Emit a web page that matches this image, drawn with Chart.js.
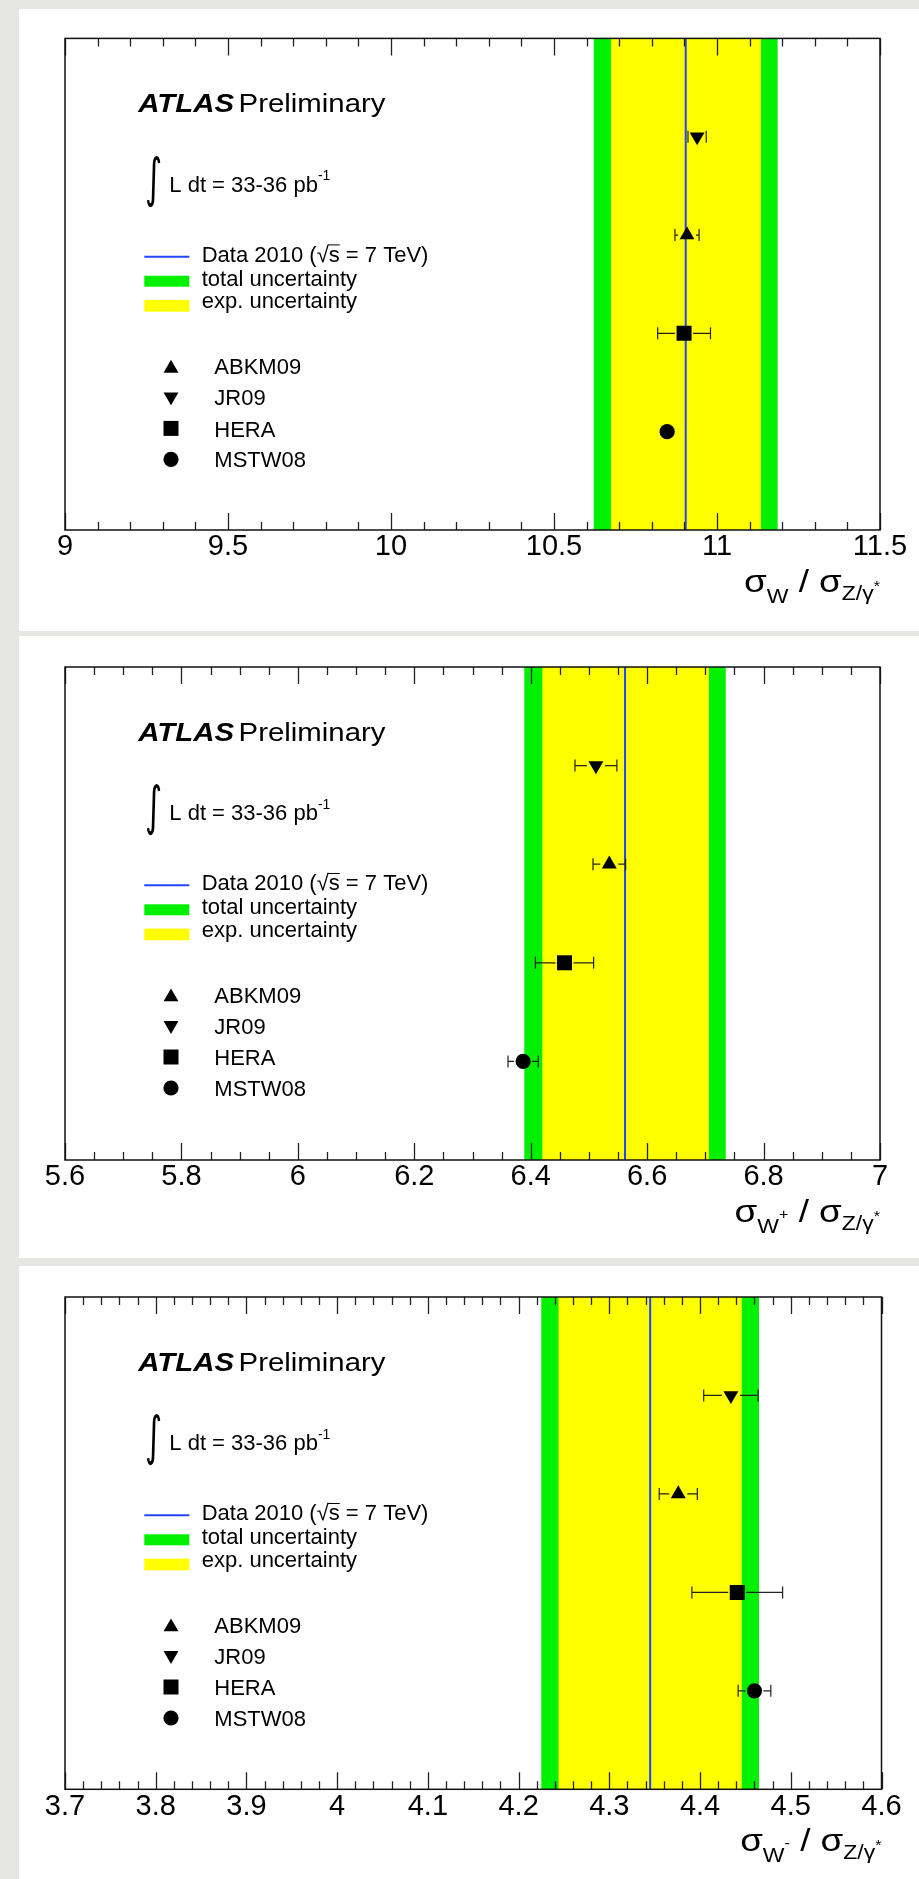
<!DOCTYPE html>
<html><head><meta charset="utf-8">
<script src="https://cdn.jsdelivr.net/npm/chart.js@4.4.1/dist/chart.umd.min.js"></script>
<style>
html,body{margin:0;padding:0;background:#e6e6e4;}
body{width:919px;height:1879px;position:relative;overflow:hidden;}
.panel{position:absolute;left:19px;width:900px;background:#fff;}
canvas{display:block;}
</style></head><body>
<div class="panel" style="top:9px;height:622px"><canvas id="c1" width="900" height="622"></canvas></div>
<div class="panel" style="top:636px;height:622px"><canvas id="c2" width="900" height="622"></canvas></div>
<div class="panel" style="top:1266px;height:613px"><canvas id="c3" width="900" height="613"></canvas></div>
<script>
// ---------- data ----------
const pdfLabels = ['ABKM09', 'JR09', 'HERA', 'MSTW08'];
const pdfRows = [3, 4, 2, 1];

// sigma_W / sigma_Z
const wTicks = ['9', '9.5', '10', '10.5', '11', '11.5'];
const wCentral = 10.904;
const wExpBand = [10.675, 11.135];
const wTotBand = [10.622, 11.186];
const wPred = [10.908, 10.939, 10.899, 10.847];
const wPredErr = [0.037, 0.028, 0.081, 0];

// sigma_W+ / sigma_Z
const wpTicks = ['5.6', '5.8', '6', '6.2', '6.4', '6.6', '6.8', '7'];
const wpCentral = 6.562;
const wpExpBand = [6.420, 6.706];
const wpTotBand = [6.389, 6.735];
const wpPred = [6.535, 6.512, 6.458, 6.387];
const wpPredErr = [0.028, 0.036, 0.050, 0.026];

// sigma_W- / sigma_Z
const wmTicks = ['3.7', '3.8', '3.9', '4', '4.1', '4.2', '4.3', '4.4', '4.5', '4.6'];
const wmCentral = 4.345;
const wmExpBand = [4.244, 4.446];
const wmTotBand = [4.225, 4.465];
const wmPred = [4.376, 4.434, 4.441, 4.460];
const wmPredErr = [0.021, 0.030, 0.050, 0.018];

// ---------- style ----------
const F = '"Liberation Sans", Arial, Helvetica, sans-serif';
const GREEN = '#00f000';
const YELLOW = '#ffff00';
const BLUE = '#2244ff';
const markerStyles = [
  {pointStyle: 'triangle', rotation: 0, radius: 8.6},
  {pointStyle: 'triangle', rotation: 180, radius: 8.6},
  {pointStyle: 'rect', rotation: 0, radius: 10.6},
  {pointStyle: 'circle', rotation: 0, radius: 7.6}
];

function drawMarker(ctx, st, x, y) {
  const opts = {pointStyle: st.pointStyle, rotation: st.rotation, radius: st.radius, borderWidth: 0};
  ctx.save();
  ctx.fillStyle = '#000'; ctx.strokeStyle = '#000';
  Chart.helpers.drawPoint(ctx, opts, x, y);
  ctx.restore();
}

function drawTitle(ctx, rightX, baseY, sup) {
  const big = '32px ' + F, sub = '20px ' + F, tiny = '14px ' + F;
  const parts = [
    {t: 'σ', f: big, dy: 0},
    {t: 'W', f: sub, dy: 11},
  ];
  if (sup) parts.push({t: sup, f: tiny, dy: -3});
  parts.push({t: ' / ', f: big, dy: 0});
  parts.push({t: 'σ', f: big, dy: 0});
  parts.push({t: 'Z/γ', f: sub, dy: 8});
  parts.push({t: '*', f: tiny, dy: -1});
  const S = 1.15;
  let total = 0;
  parts.forEach(p => { ctx.font = p.f; p.w = ctx.measureText(p.t).width; total += p.w; });
  ctx.save();
  ctx.translate(rightX - total * S, baseY);
  ctx.scale(S, 1);
  ctx.fillStyle = '#000';
  ctx.textBaseline = 'alphabetic';
  let cx = 0;
  parts.forEach(p => { ctx.font = p.f; ctx.fillText(p.t, cx, p.dy); cx += p.w; });
  ctx.restore();
}

const decorPlugin = {
  id: 'decor',
  beforeDatasetsDraw(chart) {
    const cfg = chart.options.plugins.decor;
    const {ctx, chartArea: a} = chart;
    const x = chart.scales.x;
    ctx.save();
    const band = (r, col) => {
      const x0 = x.getPixelForValue(r[0]), x1 = x.getPixelForValue(r[1]);
      ctx.fillStyle = col;
      ctx.fillRect(x0, a.top, x1 - x0, a.bottom - a.top);
    };
    band(cfg.tot, GREEN);
    band(cfg.exp, YELLOW);
    ctx.restore();
  },
  afterDatasetsDraw(chart) {
    const cfg = chart.options.plugins.decor;
    const {ctx} = chart;
    const x = chart.scales.x, y = chart.scales.y;
    ctx.save();
    ctx.strokeStyle = '#222';
    ctx.lineWidth = 1.2;
    cfg.pred.forEach((v, i) => {
      const e = cfg.err[i];
      if (!e) return;
      const py = y.getPixelForValue(pdfRows[i]);
      const xl = x.getPixelForValue(v - e), xr = x.getPixelForValue(v + e), xc = x.getPixelForValue(v);
      const gap = 9;
      ctx.beginPath();
      if (xc - xl > gap) { ctx.moveTo(xl, py); ctx.lineTo(xc - gap, py); }
      if (xr - xc > gap) { ctx.moveTo(xc + gap, py); ctx.lineTo(xr, py); }
      ctx.moveTo(xl, py - 6); ctx.lineTo(xl, py + 6);
      ctx.moveTo(xr, py - 6); ctx.lineTo(xr, py + 6);
      ctx.stroke();
    });
    ctx.restore();
  },
  afterDraw(chart) {
    const cfg = chart.options.plugins.decor;
    const {ctx, chartArea: a} = chart;
    const x = chart.scales.x;
    ctx.save();
    // ticks (top and bottom, inward)
    const majors = cfg.ticks.map(parseFloat);
    const n = Math.round((x.max - x.min) / cfg.minor);
    ctx.strokeStyle = '#222';
    ctx.lineWidth = 1.3;
    ctx.beginPath();
    for (let i = 0; i <= n; i++) {
      const v = x.min + i * cfg.minor;
      const isMajor = majors.some(m => Math.abs(m - v) < cfg.minor / 10);
      const len = isMajor ? 17 : 8;
      const px = Math.round(x.getPixelForValue(v)) + 0.5;
      ctx.moveTo(px, a.bottom); ctx.lineTo(px, a.bottom - len);
      ctx.moveTo(px, a.top); ctx.lineTo(px, a.top + len);
    }
    ctx.stroke();
    // frame
    ctx.strokeStyle = '#111';
    ctx.lineWidth = 1.5;
    ctx.strokeRect(a.left, a.top, a.right - a.left, a.bottom - a.top);

    // ATLAS Preliminary
    const L = a.left, T = a.top;
    ctx.fillStyle = '#000';
    ctx.textBaseline = 'alphabetic';
    ctx.save();
    ctx.translate(L + 73.3, T + 74);
    ctx.scale(1.13, 1);
    ctx.font = 'italic bold 26px ' + F;
    ctx.fillText('ATLAS', 0, 0);
    const wA = ctx.measureText('ATLAS').width;
    ctx.font = '26px ' + F;
    ctx.fillText('Preliminary', wA + 4, 0);
    ctx.restore();

    // integral
    ctx.save();
    ctx.font = '60px "DejaVu Sans"';
    const m = ctx.measureText('∫');
    const gh = m.actualBoundingBoxAscent + m.actualBoundingBoxDescent;
    const sc = 52 / gh;
    ctx.translate(L + 88.5, T + 116.6);
    ctx.scale(sc * 0.62, sc);
    const gw = m.actualBoundingBoxLeft + m.actualBoundingBoxRight;
    ctx.fillText('∫', -gw / 2 + m.actualBoundingBoxLeft, m.actualBoundingBoxAscent);
    ctx.restore();

    ctx.font = '22px ' + F;
    ctx.fillText('L dt = 33-36 pb', L + 104.3, T + 153.3);
    const wl = ctx.measureText('L dt = 33-36 pb').width;
    ctx.font = '14px ' + F;
    ctx.fillText('-1', L + 104.3 + wl, T + 142);

    // legend: data line & bands
    ctx.strokeStyle = BLUE; ctx.lineWidth = 2;
    ctx.beginPath(); ctx.moveTo(L + 79.3, T + 218.3); ctx.lineTo(L + 124.3, T + 218.3); ctx.stroke();
    ctx.fillStyle = GREEN; ctx.fillRect(L + 79.3, T + 237.3, 45, 11);
    ctx.fillStyle = YELLOW; ctx.fillRect(L + 79.3, T + 261.6, 45, 11.7);
    ctx.fillStyle = '#000';
    ctx.font = '22px ' + F;
    const dTxt = 'Data 2010 (√s = 7 TeV)';
    ctx.fillText(dTxt, L + 136.7, T + 223.3);
    const w0 = ctx.measureText('Data 2010 (√').width, w1 = ctx.measureText('Data 2010 (√s').width;
    ctx.strokeStyle = '#000'; ctx.lineWidth = 1;
    ctx.beginPath(); ctx.moveTo(L + 136.7 + w0 - 1, T + 206.5); ctx.lineTo(L + 136.7 + w1, T + 206.5); ctx.stroke();
    ctx.fillText('total uncertainty', L + 136.7, T + 247.3);
    ctx.fillText('exp. uncertainty', L + 136.7, T + 270);

    // legend: PDF markers
    const my = [330, 358.3, 390, 421];
    const ty = [335.6, 366.6, 398.3, 429];
    pdfLabels.forEach((name, i) => {
      drawMarker(ctx, markerStyles[i], L + 106, T + my[i]);
      ctx.fillStyle = '#000';
      ctx.font = '22px ' + F;
      ctx.fillText(name, L + 149.3, T + ty[i]);
    });

    // x-axis title
    drawTitle(ctx, a.right, a.bottom + 61.5, cfg.sup);
    ctx.restore();
  }
};

function makeChart(id, ticks, minor, central, expBand, totBand, pred, err, sup, pad, axisH) {
  const vals = ticks.map(parseFloat);
  const datasets = pdfLabels.map((name, i) => ({
    type: 'scatter',
    label: name,
    data: [{x: pred[i], y: pdfRows[i]}],
    pointStyle: markerStyles[i].pointStyle,
    pointRotation: markerStyles[i].rotation,
    pointRadius: markerStyles[i].radius,
    pointBackgroundColor: '#000',
    pointBorderColor: '#000',
    pointBorderWidth: 0,
    order: 0
  }));
  datasets.push({
    type: 'line',
    label: 'Data 2010',
    data: [{x: central, y: 0}, {x: central, y: 5}],
    borderColor: BLUE,
    borderWidth: 2,
    pointRadius: 0,
    showLine: true,
    fill: false,
    order: 5
  });
  return new Chart(document.getElementById(id), {
    type: 'scatter',
    data: {datasets},
    plugins: [decorPlugin],
    options: {
      responsive: false,
      animation: false,
      devicePixelRatio: 1,
      events: [],
      layout: {padding: pad},
      plugins: {
        legend: {display: false},
        tooltip: {enabled: false},
        decor: {ticks, minor, exp: expBand, tot: totBand, pred, err, sup}
      },
      scales: {
        x: {
          type: 'linear',
          min: vals[0],
          max: vals[vals.length - 1],
          afterBuildTicks: s => { s.ticks = vals.map(v => ({value: v})); },
          afterFit: s => { s.height = axisH; },
          grid: {display: false, drawTicks: false},
          border: {display: false},
          ticks: {
            font: {family: F, size: 29, lineHeight: 1.2},
            color: '#000',
            padding: 0,
            maxRotation: 0,
            autoSkip: false,
            callback: (v, i) => ticks[i]
          }
        },
        y: {type: 'linear', min: 0, max: 5, display: false}
      }
    }
  });
}

makeChart('c1', wTicks, 0.1, wCentral, wExpBand, wTotBand, wPred, wPredErr, '',
  {left: 46, right: 39, top: 29.4, bottom: 61}, 40);
makeChart('c2', wpTicks, 0.05, wpCentral, wpExpBand, wpTotBand, wpPred, wpPredErr, '+',
  {left: 46, right: 39, top: 31, bottom: 58}, 40);
makeChart('c3', wmTicks, 0.02, wmCentral, wmExpBand, wmTotBand, wmPred, wmPredErr, '-',
  {left: 46, right: 37.5, top: 31, bottom: 49.7}, 40);
</script>
</body></html>
